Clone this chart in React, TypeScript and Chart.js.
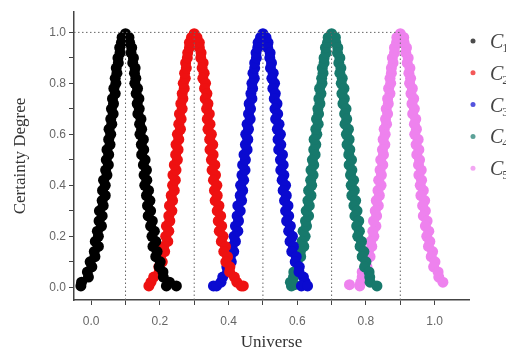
import React, { useEffect, useRef } from "react";
import { Chart, registerables } from "chart.js";

Chart.register(...registerables);

type P = [number, number];

const seriesNames = ["C1", "C2", "C3", "C4", "C5"];
const seriesColors = ["#000000", "#ee1111", "#0a0ad0", "#17796c", "#ee82ee"];
const centers = [0.1, 0.3, 0.5, 0.7, 0.9];
const peak = 1.0;
const xTicks = [0, 0.1, 0.2, 0.3, 0.4, 0.5, 0.6, 0.7, 0.8, 0.9, 1.0];
const yTicks = [0, 0.1, 0.2, 0.3, 0.4, 0.5, 0.6, 0.7, 0.8, 0.9, 1.0];
const xRange = [-0.05, 1.1];
const yRange = [-0.05, 1.08];

const c1: P[] = [[-0.030,0.005],[-0.028,0.02],[-0.008,0.04],[-0.011,0.06],[0.002,0.08],[-0.003,0.10],[0.011,0.12],[0.009,0.14],[0.021,0.16],[0.012,0.18],[0.021,0.20],[0.018,0.22],[0.030,0.24],[0.023,0.26],[0.032,0.28],[0.024,0.30],[0.035,0.32],[0.032,0.34],[0.041,0.36],[0.033,0.38],[0.041,0.40],[0.036,0.42],[0.046,0.44],[0.042,0.46],[0.050,0.48],[0.044,0.50],[0.051,0.52],[0.046,0.54],[0.055,0.56],[0.051,0.58],[0.057,0.60],[0.052,0.62],[0.060,0.64],[0.057,0.66],[0.064,0.68],[0.059,0.70],[0.065,0.72],[0.062,0.74],[0.070,0.76],[0.066,0.78],[0.072,0.80],[0.070,0.82],[0.075,0.84],[0.073,0.86],[0.079,0.88],[0.078,0.90],[0.084,0.92],[0.083,0.94],[0.088,0.96],[0.090,0.98],[0.100,0.995],
[0.110,0.98],[0.112,0.96],[0.118,0.94],[0.116,0.92],[0.123,0.90],[0.121,0.88],[0.128,0.86],[0.126,0.84],[0.130,0.82],[0.127,0.80],[0.135,0.78],[0.131,0.76],[0.139,0.74],[0.134,0.72],[0.140,0.70],[0.136,0.68],[0.145,0.66],[0.141,0.64],[0.147,0.62],[0.142,0.60],[0.152,0.58],[0.146,0.56],[0.153,0.54],[0.147,0.52],[0.157,0.50],[0.152,0.48],[0.161,0.46],[0.154,0.44],[0.162,0.42],[0.156,0.40],[0.167,0.38],[0.161,0.36],[0.171,0.34],[0.164,0.32],[0.173,0.30],[0.166,0.28],[0.178,0.26],[0.173,0.24],[0.184,0.22],[0.177,0.20],[0.188,0.18],[0.180,0.16],[0.192,0.14],[0.188,0.12],[0.201,0.10],[0.198,0.08],[0.209,0.06],[0.210,0.04],[0.228,0.02],[0.219,0.005],[0.248,0.005]];

const c2: P[] = [[0.168,0.005],[0.174,0.02],[0.182,0.04],[0.198,0.06],[0.197,0.08],[0.207,0.10],[0.202,0.12],[0.214,0.14],[0.211,0.16],[0.223,0.18],[0.217,0.20],[0.226,0.22],[0.219,0.24],[0.229,0.26],[0.226,0.28],[0.235,0.30],[0.228,0.32],[0.237,0.34],[0.233,0.36],[0.242,0.38],[0.237,0.40],[0.245,0.42],[0.238,0.44],[0.247,0.46],[0.242,0.48],[0.251,0.50],[0.246,0.52],[0.253,0.54],[0.247,0.56],[0.255,0.58],[0.251,0.60],[0.260,0.62],[0.255,0.64],[0.262,0.66],[0.257,0.68],[0.265,0.70],[0.261,0.72],[0.267,0.74],[0.265,0.76],[0.271,0.78],[0.268,0.80],[0.274,0.82],[0.272,0.84],[0.277,0.86],[0.275,0.88],[0.280,0.90],[0.281,0.92],[0.286,0.94],[0.286,0.96],[0.292,0.98],[0.300,0.995],
[0.308,0.98],[0.315,0.96],[0.315,0.94],[0.320,0.92],[0.319,0.90],[0.326,0.88],[0.323,0.86],[0.329,0.84],[0.325,0.82],[0.333,0.80],[0.330,0.78],[0.337,0.76],[0.332,0.74],[0.340,0.72],[0.336,0.70],[0.344,0.68],[0.338,0.66],[0.346,0.64],[0.340,0.62],[0.350,0.60],[0.345,0.58],[0.354,0.56],[0.346,0.54],[0.355,0.52],[0.350,0.50],[0.360,0.48],[0.352,0.46],[0.362,0.44],[0.356,0.42],[0.366,0.40],[0.359,0.38],[0.367,0.36],[0.361,0.34],[0.372,0.32],[0.367,0.30],[0.377,0.28],[0.370,0.26],[0.380,0.24],[0.373,0.22],[0.384,0.20],[0.379,0.18],[0.391,0.16],[0.386,0.14],[0.397,0.12],[0.392,0.10],[0.404,0.08],[0.403,0.06],[0.417,0.04],[0.424,0.02],[0.437,0.005],[0.443,0.005]];

const c3: P[] = [[0.356,0.005],[0.365,0.005],[0.378,0.02],[0.383,0.04],[0.397,0.06],[0.395,0.08],[0.408,0.10],[0.405,0.12],[0.415,0.14],[0.410,0.16],[0.420,0.18],[0.416,0.20],[0.427,0.22],[0.420,0.24],[0.429,0.26],[0.425,0.28],[0.434,0.30],[0.427,0.32],[0.438,0.34],[0.434,0.36],[0.441,0.38],[0.435,0.40],[0.444,0.42],[0.439,0.44],[0.448,0.46],[0.441,0.48],[0.449,0.50],[0.445,0.52],[0.454,0.54],[0.449,0.56],[0.456,0.58],[0.450,0.60],[0.458,0.62],[0.454,0.64],[0.463,0.66],[0.458,0.68],[0.464,0.70],[0.460,0.72],[0.468,0.74],[0.465,0.76],[0.470,0.78],[0.468,0.80],[0.475,0.82],[0.471,0.84],[0.476,0.86],[0.476,0.88],[0.481,0.90],[0.480,0.92],[0.485,0.94],[0.486,0.96],[0.493,0.98],[0.500,0.995],
[0.509,0.98],[0.515,0.96],[0.514,0.94],[0.521,0.92],[0.520,0.90],[0.525,0.88],[0.522,0.86],[0.530,0.84],[0.526,0.82],[0.534,0.80],[0.529,0.78],[0.536,0.76],[0.533,0.74],[0.541,0.72],[0.535,0.70],[0.543,0.68],[0.537,0.66],[0.547,0.64],[0.542,0.62],[0.551,0.60],[0.544,0.58],[0.552,0.56],[0.546,0.54],[0.557,0.52],[0.551,0.50],[0.559,0.48],[0.552,0.46],[0.561,0.44],[0.556,0.42],[0.566,0.40],[0.559,0.38],[0.568,0.36],[0.563,0.34],[0.573,0.32],[0.566,0.30],[0.575,0.28],[0.569,0.26],[0.580,0.24],[0.575,0.22],[0.586,0.20],[0.579,0.18],[0.589,0.16],[0.584,0.14],[0.597,0.12],[0.594,0.10],[0.606,0.08],[0.605,0.06],[0.618,0.04],[0.623,0.02],[0.612,0.005],[0.630,0.005]];

const c4: P[] = [[0.583,0.005],[0.592,0.01],[0.580,0.02],[0.589,0.04],[0.590,0.06],[0.603,0.08],[0.599,0.10],[0.610,0.12],[0.609,0.14],[0.619,0.16],[0.614,0.18],[0.623,0.20],[0.617,0.22],[0.627,0.24],[0.624,0.26],[0.633,0.28],[0.626,0.30],[0.635,0.32],[0.631,0.34],[0.640,0.36],[0.633,0.38],[0.642,0.40],[0.639,0.42],[0.646,0.44],[0.640,0.46],[0.648,0.48],[0.644,0.50],[0.652,0.52],[0.648,0.54],[0.654,0.56],[0.649,0.58],[0.657,0.60],[0.654,0.62],[0.661,0.64],[0.656,0.66],[0.662,0.68],[0.660,0.70],[0.666,0.72],[0.663,0.74],[0.669,0.76],[0.665,0.78],[0.672,0.80],[0.671,0.82],[0.675,0.84],[0.673,0.86],[0.678,0.88],[0.678,0.90],[0.684,0.92],[0.682,0.94],[0.688,0.96],[0.690,0.98],[0.700,0.995],
[0.711,0.98],[0.712,0.96],[0.718,0.94],[0.717,0.92],[0.724,0.90],[0.721,0.88],[0.727,0.86],[0.724,0.84],[0.731,0.82],[0.728,0.80],[0.736,0.78],[0.730,0.76],[0.737,0.74],[0.733,0.72],[0.742,0.70],[0.738,0.68],[0.744,0.66],[0.739,0.64],[0.749,0.62],[0.743,0.60],[0.751,0.58],[0.745,0.56],[0.753,0.54],[0.750,0.52],[0.758,0.50],[0.751,0.48],[0.759,0.46],[0.755,0.44],[0.764,0.42],[0.757,0.40],[0.766,0.38],[0.759,0.36],[0.770,0.34],[0.765,0.32],[0.774,0.30],[0.768,0.28],[0.779,0.26],[0.773,0.24],[0.781,0.22],[0.776,0.20],[0.787,0.18],[0.783,0.16],[0.794,0.14],[0.789,0.12],[0.800,0.10],[0.796,0.08],[0.809,0.06],[0.811,0.04],[0.812,0.02],[0.832,0.005]];

const c5: P[] = [[0.752,0.01],[0.782,0.005],[0.785,0.02],[0.789,0.04],[0.789,0.06],[0.803,0.08],[0.800,0.10],[0.812,0.12],[0.807,0.14],[0.817,0.16],[0.814,0.18],[0.823,0.20],[0.820,0.22],[0.829,0.24],[0.822,0.26],[0.831,0.28],[0.827,0.30],[0.836,0.32],[0.830,0.34],[0.839,0.36],[0.835,0.38],[0.844,0.40],[0.837,0.42],[0.845,0.44],[0.841,0.46],[0.849,0.48],[0.843,0.50],[0.851,0.52],[0.848,0.54],[0.855,0.56],[0.850,0.58],[0.856,0.60],[0.853,0.62],[0.860,0.64],[0.857,0.66],[0.863,0.68],[0.859,0.70],[0.865,0.72],[0.863,0.74],[0.870,0.76],[0.866,0.78],[0.872,0.80],[0.870,0.82],[0.874,0.84],[0.874,0.86],[0.879,0.88],[0.877,0.90],[0.883,0.92],[0.883,0.94],[0.889,0.96],[0.890,0.98],[0.900,0.995],
[0.910,0.98],[0.911,0.96],[0.918,0.94],[0.916,0.92],[0.923,0.90],[0.920,0.88],[0.928,0.86],[0.925,0.84],[0.930,0.82],[0.927,0.80],[0.935,0.78],[0.931,0.76],[0.939,0.74],[0.934,0.72],[0.941,0.70],[0.936,0.68],[0.945,0.66],[0.941,0.64],[0.947,0.62],[0.942,0.60],[0.952,0.58],[0.946,0.56],[0.954,0.54],[0.948,0.52],[0.956,0.50],[0.953,0.48],[0.961,0.46],[0.954,0.44],[0.962,0.42],[0.958,0.40],[0.967,0.38],[0.960,0.36],[0.971,0.34],[0.965,0.32],[0.973,0.30],[0.967,0.28],[0.978,0.26],[0.973,0.24],[0.983,0.22],[0.977,0.20],[0.986,0.18],[0.982,0.16],[0.994,0.14],[0.990,0.12],[1.001,0.10],[0.997,0.08],[1.010,0.06],[1.012,0.04],[1.024,0.02]];

const clouds: P[][] = [c1, c2, c3, c4, c5];

const W = 506;
const H = 356;

const legendPlugin = {
  id: "cloudLegend",
  afterDraw(chart: any) {
    const ctx = chart.ctx;
    ctx.save();
    seriesNames.forEach((name, i) => {
      const y = 41 + i * 31.8;
      ctx.beginPath();
      ctx.fillStyle = seriesColors[i];
      ctx.globalAlpha = 0.7;
      ctx.arc(473, y, 2.5, 0, Math.PI * 2);
      ctx.fill();
      ctx.globalAlpha = 1;
      ctx.fillStyle = "#444";
      ctx.textBaseline = "alphabetic";
      ctx.textAlign = "left";
      ctx.font = "italic 20px 'Liberation Serif', serif";
      ctx.fillText(name.charAt(0), 490, y + 7);
      const cw = ctx.measureText(name.charAt(0)).width;
      ctx.font = "13px 'Liberation Serif', serif";
      ctx.fillText(name.slice(1), 490 + cw - 1, y + 11);
    });
    ctx.restore();
  },
};

export default function App() {
  const ref = useRef<HTMLCanvasElement | null>(null);
  useEffect(() => {
    document.body.style.margin = "0";
    const canvas = ref.current;
    if (!canvas) return;
    const guideStyle = {
      showLine: true,
      pointRadius: 0,
      pointHoverRadius: 0,
      borderColor: "#666",
      borderWidth: 1,
      borderDash: [1.5, 2.5],
      fill: false,
      order: -1,
    };
    const guides = centers.map((c) => ({
      ...guideStyle,
      label: "guide",
      data: [
        { x: c, y: yRange[0] },
        { x: c, y: peak },
      ],
    }));
    const hGuide = {
      ...guideStyle,
      label: "guide",
      data: [
        { x: xRange[0], y: peak },
        { x: centers[centers.length - 1], y: peak },
      ],
    };
    const scatterSets = clouds.map((pts, i) => ({
      label: seriesNames[i],
      data: pts.map(([x, y]) => ({ x, y })),
      pointRadius: 5.5,
      pointBorderWidth: 0,
      pointBackgroundColor: seriesColors[i],
      pointBorderColor: seriesColors[i],
      showLine: false,
      order: 1,
    }));
    const tickFont = { family: "'Liberation Sans', Arial, sans-serif", size: 12 };
    const chart = new Chart(canvas, {
      type: "scatter",
      data: { datasets: [...guides, hGuide, ...scatterSets] as any },
      plugins: [legendPlugin],
      options: {
        animation: false,
        responsive: false,
        maintainAspectRatio: false,
        layout: { padding: { left: 0, right: 37, top: 12, bottom: 0 } },
        plugins: { legend: { display: false }, tooltip: { enabled: false } },
        scales: {
          x: {
            type: "linear",
            min: xRange[0],
            max: xRange[1],
            afterBuildTicks: (s: any) => {
              s.ticks = xTicks.map((v) => ({ value: v }));
            },
            afterFit: (s: any) => {
              s.height = 56;
            },
            ticks: {
              autoSkip: false,
              maxRotation: 0,
              padding: 9,
              color: "#666",
              font: tickFont,
              callback: (v: any) => (Math.round(Number(v) * 10) % 2 === 0 ? Number(v).toFixed(1) : ""),
            },
            grid: {
              drawOnChartArea: false,
              drawTicks: true,
              tickLength: 5,
              tickColor: "#444",
            },
            border: { display: true, color: "#444", width: 1.5 },
            title: {
              display: true,
              text: "Universe",
              color: "#333",
              font: { family: "'Liberation Serif', 'Times New Roman', serif", size: 17 },
              padding: { top: 0, bottom: 3 },
            },
          },
          y: {
            type: "linear",
            min: yRange[0],
            max: yRange[1],
            afterBuildTicks: (s: any) => {
              s.ticks = yTicks.map((v) => ({ value: v }));
            },
            afterFit: (s: any) => {
              s.width = 74;
            },
            ticks: {
              autoSkip: false,
              padding: 3,
              color: "#666",
              font: tickFont,
              callback: (v: any) => (Math.round(Number(v) * 10) % 2 === 0 ? Number(v).toFixed(1) : ""),
            },
            grid: {
              drawOnChartArea: false,
              drawTicks: true,
              tickLength: 5,
              tickColor: "#444",
            },
            border: { display: true, color: "#444", width: 1.5 },
            title: {
              display: true,
              text: "Certainty Degree",
              color: "#333",
              font: { family: "'Liberation Serif', 'Times New Roman', serif", size: 17 },
              padding: { top: 10, bottom: 0 },
            },
          },
        },
      } as any,
    });
    return () => chart.destroy();
  }, []);
  return (
    <div style={{ position: "absolute", left: 0, top: 0, width: W, height: H, background: "#fff" }}>
      <canvas ref={ref} width={W} height={H} style={{ width: W, height: H, display: "block" }} />
    </div>
  );
}
